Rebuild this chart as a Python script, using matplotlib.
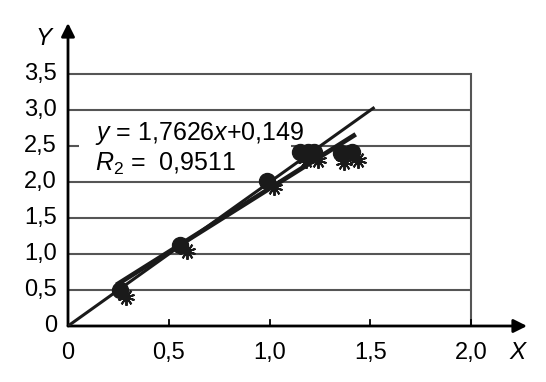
import numpy as np
import matplotlib
matplotlib.use("Agg")
import matplotlib.pyplot as plt
from matplotlib.patches import Rectangle

plt.rcParams['font.family'] = ['Liberation Sans', 'DejaVu Sans']
plt.rcParams['mathtext.fontset'] = 'custom'
plt.rcParams['mathtext.rm'] = 'Liberation Sans'
plt.rcParams['mathtext.it'] = 'Liberation Sans:italic'

# experimental points (circles) and second series (asterisks)
x_circ = [0.26, 0.557, 0.99, 1.15, 1.19, 1.22, 1.353, 1.41]
y_circ = [0.50, 1.13, 2.02, 2.42, 2.42, 2.42, 2.41, 2.42]
x_star = [0.29, 0.59, 1.02, 1.18, 1.24, 1.37, 1.44]
y_star = [0.40, 1.04, 1.93, 2.31, 2.31, 2.28, 2.31]

# regression y = a*x + b and the reference line y = 2x
a, b = 1.7626, 0.149
reg_x = [0.25, 1.418]
ref_x = [0.0, 1.515]

xticks = [0, 0.5, 1.0, 1.5, 2.0]
xtick_lbl = ['0', '0,5', '1,0', '1,5', '2,0']
yticks = [0, 0.5, 1.0, 1.5, 2.0, 2.5, 3.0, 3.5]
ytick_lbl = ['0', '0,5', '1,0', '1,5', '2,0', '2,5', '3,0', '3,5']

fig = plt.figure(figsize=(5.46, 3.82), dpi=100)
ax = fig.add_axes([68/546, 56/382, 459/546, 303/382])
xmax = 459/201.5
ymax = 303/71.9
ax.set_xlim(0, xmax)
ax.set_ylim(0, ymax)
for s in ax.spines.values():
    s.set_visible(False)
ax.set_xticks([])
ax.set_yticks([])

# grid and frame
for yv in yticks[1:]:
    ax.plot([0, 2.0], [yv, yv], color='#555555', lw=1.5, zorder=1, solid_capstyle='butt')
ax.plot([2.0, 2.0], [0, 3.5], color='#555555', lw=1.5, zorder=1)

# x tick marks (inward)
for xv in xticks[1:]:
    ax.plot([xv, xv], [0, 0.09], color='k', lw=1.3, zorder=2)

# axes with arrows
ax.annotate('', xy=(xmax, 0), xytext=(0, 0),
            arrowprops=dict(arrowstyle='-|>', mutation_scale=20, lw=2, color='k',
                            shrinkA=0, shrinkB=0), annotation_clip=False, zorder=3)
ax.annotate('', xy=(0, ymax), xytext=(0, 0),
            arrowprops=dict(arrowstyle='-|>', mutation_scale=20, lw=2, color='k',
                            shrinkA=0, shrinkB=0), annotation_clip=False, zorder=3)

# tick labels
for xv, lb in zip(xticks, xtick_lbl):
    ax.text(xv, -0.37, lb, ha='center', va='center', fontsize=17, clip_on=False)
for yv, lb in zip(yticks, ytick_lbl):
    ax.text(-0.055, yv, lb, ha='right', va='center', fontsize=17, clip_on=False)
ax.text(2.23, -0.37, 'X', ha='center', va='center', fontsize=17.5, style='italic', clip_on=False)
ax.text(-0.12, 4.0, 'Y', ha='center', va='center', fontsize=17.5, style='italic', clip_on=False)

# white area behind the equation
ax.add_patch(Rectangle((0.055, 2.35), 1.05, 0.3, facecolor='white', edgecolor='none', zorder=2))

# lines
ref_x = np.array(ref_x)
reg_x = np.array(reg_x)
ax.plot(ref_x, 2 * ref_x, color='#1a1a1a', lw=2.2, zorder=4)
ax.plot(reg_x, a * reg_x + b, color='#1a1a1a', lw=3.4, zorder=4)

# markers
ax.plot(x_star, y_star, linestyle='none', marker=(10, 2, 0), markersize=12,
        markeredgewidth=1.4, color='#1a1a1a', zorder=5)
ax.plot(x_circ, y_circ, linestyle='none', marker='o', markersize=11.5,
        color='#1a1a1a', zorder=6)

# equation
ax.text(0.134, 2.68, r'$y$ = 1,7626$x$+0,149', ha='left', va='center', fontsize=18, zorder=3)
ax.text(0.134, 2.26, r'$R_2$ =  0,9511', ha='left', va='center', fontsize=18, zorder=3)

fig.savefig('out.png', dpi=100)
